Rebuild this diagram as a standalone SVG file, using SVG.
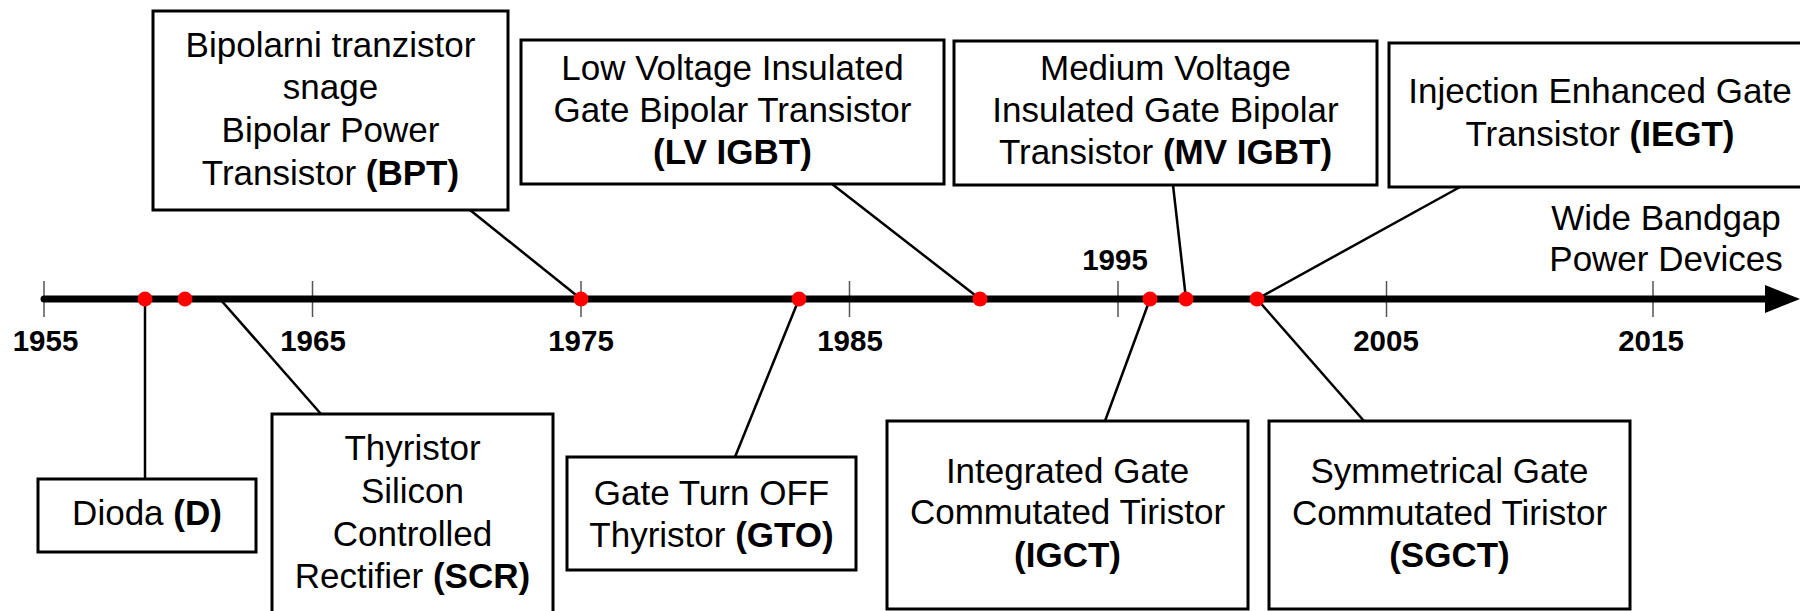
<svg xmlns="http://www.w3.org/2000/svg" width="1800" height="611" viewBox="0 0 1800 611">
<style>
  text { font-family: "Liberation Sans", Arial, sans-serif; fill: #000; }
  .lbl { font-size: 35px; text-anchor: middle; }
  .yr { font-size: 29.5px; font-weight: bold; text-anchor: middle; }
  .b { font-weight: bold; }
  .box { fill: #fff; stroke: #000; stroke-width: 3; }
  .con { stroke: #000; stroke-width: 2.5; fill: none; }
  .tick { stroke: #555; stroke-width: 1.5; }
  .dot { fill: #ff0000; }
</style>
<rect width="1800" height="611" fill="#fff"/>

<g id="connectors">
  <line class="con" x1="145" y1="299" x2="145" y2="479"/>
  <line class="con" x1="220" y1="299" x2="321" y2="414"/>
  <line class="con" x1="470" y1="210" x2="581" y2="299"/>
  <line class="con" x1="799" y1="299" x2="735" y2="457"/>
  <line class="con" x1="832" y1="184" x2="980" y2="299"/>
  <line class="con" x1="1150" y1="299" x2="1105" y2="421"/>
  <line class="con" x1="1173" y1="185" x2="1186" y2="299"/>
  <line class="con" x1="1460" y1="187" x2="1257" y2="299"/>
  <line class="con" x1="1257" y1="299" x2="1364" y2="421"/>
</g>

<g id="axis">
  <line class="tick" x1="44" y1="281" x2="44" y2="317"/>
  <line class="tick" x1="312.5" y1="281" x2="312.5" y2="317"/>
  <line class="tick" x1="581" y1="281" x2="581" y2="317"/>
  <line class="tick" x1="849.5" y1="281" x2="849.5" y2="317"/>
  <line class="tick" x1="1118" y1="281" x2="1118" y2="317"/>
  <line class="tick" x1="1386.5" y1="281" x2="1386.5" y2="317"/>
  <line class="tick" x1="1653" y1="281" x2="1653" y2="317"/>
  <line x1="44" y1="299" x2="1770" y2="299" stroke="#000" stroke-width="7" stroke-linecap="round"/>
  <polygon points="1765,285 1800,299 1765,313" fill="#000"/>
  <text class="yr" x="45.5" y="350.5">1955</text>
  <text class="yr" x="313" y="350.5">1965</text>
  <text class="yr" x="581" y="350.5">1975</text>
  <text class="yr" x="850" y="350.5">1985</text>
  <text class="yr" x="1115" y="270">1995</text>
  <text class="yr" x="1386" y="350.5">2005</text>
  <text class="yr" x="1651" y="350.5">2015</text>
</g>

<g id="dots">
  <circle class="dot" cx="145" cy="299" r="7.5"/>
  <circle class="dot" cx="185" cy="299" r="7.5"/>
  <circle class="dot" cx="581" cy="299" r="7.5"/>
  <circle class="dot" cx="799" cy="299" r="7.5"/>
  <circle class="dot" cx="980" cy="299" r="7.5"/>
  <circle class="dot" cx="1150" cy="299" r="7.5"/>
  <circle class="dot" cx="1186" cy="299" r="7.5"/>
  <circle class="dot" cx="1257" cy="299" r="7.5"/>
</g>

<g id="bpt">
  <rect class="box" x="153" y="11" width="355" height="199"/>
  <text class="lbl" x="330.5" y="57">Bipolarni tranzistor</text>
  <text class="lbl" x="330.5" y="99">snage</text>
  <text class="lbl" x="330.5" y="142">Bipolar Power</text>
  <text class="lbl" x="330.5" y="185">Transistor <tspan class="b">(BPT)</tspan></text>
</g>

<g id="lvigbt">
  <rect class="box" x="521" y="40" width="423" height="144"/>
  <text class="lbl" x="732.5" y="80">Low Voltage Insulated</text>
  <text class="lbl" x="732.5" y="122">Gate Bipolar Transistor</text>
  <text class="lbl b" x="732.5" y="164">(LV IGBT)</text>
</g>

<g id="mvigbt">
  <rect class="box" x="954" y="41" width="423" height="144"/>
  <text class="lbl" x="1165.5" y="80">Medium Voltage</text>
  <text class="lbl" x="1165.5" y="122">Insulated Gate Bipolar</text>
  <text class="lbl" x="1165.5" y="164">Transistor <tspan class="b">(MV IGBT)</tspan></text>
</g>

<g id="iegt">
  <rect class="box" x="1389" y="43" width="422" height="144"/>
  <text class="lbl" x="1600" y="103">Injection Enhanced Gate</text>
  <text class="lbl" x="1600" y="146">Transistor <tspan class="b">(IEGT)</tspan></text>
</g>

<g id="widebandgap">
  <text class="lbl" x="1666" y="230">Wide Bandgap</text>
  <text class="lbl" x="1666" y="271">Power Devices</text>
</g>

<g id="dioda">
  <rect class="box" x="38" y="479" width="218" height="73"/>
  <text class="lbl" x="147" y="525">Dioda <tspan class="b">(D)</tspan></text>
</g>

<g id="scr">
  <rect class="box" x="272" y="414" width="281" height="205"/>
  <text class="lbl" x="412.5" y="460">Thyristor</text>
  <text class="lbl" x="412.5" y="503">Silicon</text>
  <text class="lbl" x="412.5" y="546">Controlled</text>
  <text class="lbl" x="412.5" y="588">Rectifier <tspan class="b">(SCR)</tspan></text>
</g>

<g id="gto">
  <rect class="box" x="567" y="457" width="289" height="113"/>
  <text class="lbl" x="711.5" y="505">Gate Turn OFF</text>
  <text class="lbl" x="711.5" y="547">Thyristor <tspan class="b">(GTO)</tspan></text>
</g>

<g id="igct">
  <rect class="box" x="887" y="421" width="361" height="188"/>
  <text class="lbl" x="1067.5" y="483">Integrated Gate</text>
  <text class="lbl" x="1067.5" y="524">Commutated Tiristor</text>
  <text class="lbl b" x="1067.5" y="567">(IGCT)</text>
</g>

<g id="sgct">
  <rect class="box" x="1269" y="421" width="361" height="188"/>
  <text class="lbl" x="1449.5" y="483">Symmetrical Gate</text>
  <text class="lbl" x="1449.5" y="525">Commutated Tiristor</text>
  <text class="lbl b" x="1449.5" y="567">(SGCT)</text>
</g>
</svg>
